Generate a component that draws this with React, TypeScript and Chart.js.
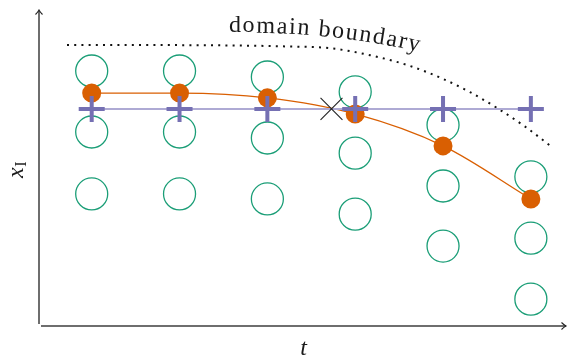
import React, { useEffect, useRef } from "react";
import { Chart, registerables } from "chart.js";

Chart.register(...registerables);

// ---- data ----
const columnT = [1, 2, 3, 4, 5, 6];
const greenTop = [80.7, 80.7, 78.8, 74.1, 63.6, 47.2];
const greenMid = [61.4, 61.4, 59.5, 54.7, 44.3, 27.8];
const greenLow = [41.8, 41.8, 40.2, 35.4, 25.3, 8.5];
const orangeVals = [73.7, 73.7, 72.2, 67.1, 57.0, 40.2];
const purpleVals = [68.7, 68.7, 68.7, 68.7, 68.7, 68.7];
const crossT = [3.73];
const crossV = [68.7];
const boundaryT = [0.719, 1.664, 2.495, 3.178, 3.713, 4.169, 4.624, 5.0, 5.307, 5.615, 5.934, 6.241];
const boundaryV = [88.9, 88.9, 88.8, 88.5, 87.9, 85.7, 82.3, 78.2, 74.0, 69.0, 63.1, 56.6];
const labelPathT = [2.563, 2.802, 3.087, 3.372, 3.6, 3.827, 4.05, 4.282, 4.51, 4.738, 4.966];
const labelPathV = [92.88, 92.88, 92.7, 92.34, 91.8, 91.14, 90.3, 89.27, 88.1, 86.71, 85.13];
const boundaryLabel = "domain boundary";
const xLabel = "t";
const yLabelMain = "x";
const yLabelSub = "I";

const GREEN = "#1b9e77";
const ORANGE = "#d95f02";
const PURPLE = "#7570b3";

const pts = (xs: number[], ys: number[]) => xs.map((x, i) => ({ x, y: ys[i] }));

const decorPlugin = {
  id: "decor",
  beforeDatasetsDraw(chart: any) {
    const { ctx, chartArea } = chart;
    const { left, right, top, bottom } = chartArea;
    ctx.save();
    ctx.strokeStyle = "#6e6e6e";
    ctx.lineWidth = 2;
    ctx.beginPath();
    ctx.moveTo(left, bottom - 2);
    ctx.lineTo(left, top + 1);
    ctx.moveTo(left + 2, bottom);
    ctx.lineTo(right, bottom);
    ctx.stroke();
    // arrow heads
    ctx.strokeStyle = "#222";
    ctx.lineWidth = 1.1;
    ctx.beginPath();
    ctx.moveTo(left - 3.5, top + 4.5);
    ctx.quadraticCurveTo(left - 1, top + 2, left, top);
    ctx.quadraticCurveTo(left + 1, top + 2, left + 3.5, top + 4.5);
    ctx.moveTo(right - 4.5, bottom - 3.5);
    ctx.quadraticCurveTo(right - 2, bottom - 1, right, bottom);
    ctx.quadraticCurveTo(right - 2, bottom + 1, right - 4.5, bottom + 3.5);
    ctx.stroke();
    ctx.restore();
  },
  afterDraw(chart: any) {
    const { ctx, chartArea, scales } = chart;
    const xs = scales.x;
    const ys = scales.y;
    ctx.save();
    ctx.fillStyle = "#1a1a1a";
    // axis label t
    ctx.font = "italic 24px 'Liberation Serif'";
    ctx.textAlign = "center";
    ctx.textBaseline = "alphabetic";
    ctx.fillText(xLabel, (chartArea.left + chartArea.right) / 2 + 1, chartArea.bottom + 29);
    // y label x_I rotated
    ctx.save();
    ctx.translate(chartArea.left - 16, (chartArea.top + chartArea.bottom) / 2 + 10);
    ctx.rotate(-Math.PI / 2);
    ctx.textAlign = "left";
    ctx.font = "italic 24px 'Liberation Serif'";
    ctx.fillText(yLabelMain, 0, 0);
    const wx = ctx.measureText(yLabelMain).width;
    ctx.font = "16px 'Liberation Serif'";
    ctx.fillText(yLabelSub, wx + 0.5, 3);
    ctx.restore();

    // text along curved path
    const path = labelPathT.map((t, i) => ({ x: xs.getPixelForValue(t), y: ys.getPixelForValue(labelPathV[i]) }));
    const cum = [0];
    for (let i = 1; i < path.length; i++) {
      cum.push(cum[i - 1] + Math.hypot(path[i].x - path[i - 1].x, path[i].y - path[i - 1].y));
    }
    const at = (s: number) => {
      let i = 1;
      while (i < path.length - 1 && cum[i] < s) i++;
      const a = path[i - 1];
      const b = path[i];
      const segLen = cum[i] - cum[i - 1];
      const f = (s - cum[i - 1]) / segLen;
      return { x: a.x + (b.x - a.x) * f, y: a.y + (b.y - a.y) * f, ang: Math.atan2(b.y - a.y, b.x - a.x) };
    };
    ctx.font = "24px 'Liberation Serif'";
    ctx.textAlign = "left";
    const spacing = 1.6;
    let s = 0;
    for (const ch of boundaryLabel) {
      const w = ctx.measureText(ch).width;
      const p = at(s + w / 2);
      ctx.save();
      ctx.translate(p.x, p.y);
      ctx.rotate(p.ang);
      ctx.fillText(ch, -w / 2, 0);
      ctx.restore();
      s += w + spacing;
    }
    ctx.restore();
  },
};

export default function App() {
  const ref = useRef<HTMLCanvasElement | null>(null);
  useEffect(() => {
    if (!ref.current) return;
    const greenPts = [
      ...pts(columnT, greenTop),
      ...pts(columnT, greenMid),
      ...pts(columnT, greenLow),
    ];
    const chart = new Chart(ref.current, {
      type: "scatter",
      data: {
        datasets: [
          {
            label: "switch",
            data: pts(crossT, crossV),
            pointStyle: "crossRot",
            pointRadius: 15.5,
            pointBorderWidth: 1.1,
            pointBorderColor: "#222",
            showLine: false,
            order: 0,
            clip: false,
          } as any,
          {
            label: "fixed",
            data: pts(columnT, purpleVals),
            showLine: true,
            borderColor: "#aeaad4",
            borderWidth: 2,
            pointStyle: "cross",
            pointRadius: 13,
            pointBorderWidth: 4,
            pointBorderColor: PURPLE,
            order: 1,
            clip: false,
          },
          {
            label: "trajectory",
            data: pts(columnT, orangeVals),
            showLine: true,
            borderColor: ORANGE,
            borderWidth: 1.3,
            cubicInterpolationMode: "monotone",
            pointStyle: "circle",
            pointRadius: 9.5,
            pointBorderWidth: 0,
            pointBackgroundColor: ORANGE,
            order: 2,
            clip: false,
          },
          {
            label: "grid",
            data: greenPts,
            showLine: false,
            pointStyle: "circle",
            pointRadius: 16,
            pointBorderWidth: 1.3,
            pointBorderColor: GREEN,
            pointBackgroundColor: "rgba(0,0,0,0)",
            order: 3,
            clip: false,
          },
          {
            label: "boundary",
            data: pts(boundaryT, boundaryV),
            showLine: true,
            borderColor: "#111",
            borderWidth: 2,
            borderDash: [2, 5.2],
            cubicInterpolationMode: "monotone",
            pointRadius: 0,
            order: 4,
            clip: false,
          },
        ],
      },
      options: {
        responsive: false,
        animation: false,
        devicePixelRatio: 1,
        layout: { autoPadding: false, padding: { left: 39, right: 4, top: 10, bottom: 30 } },
        scales: {
          x: { type: "linear", min: 0.4, max: 6.4, display: false },
          y: { type: "linear", min: 0, max: 100, display: false },
        },
        plugins: { legend: { display: false }, tooltip: { enabled: false } },
        events: [],
      },
      plugins: [decorPlugin],
    });
    return () => chart.destroy();
  }, []);
  return (
    <div style={{ position: "fixed", left: 0, top: 0, width: 570, height: 356, background: "#fff" }}>
      <canvas ref={ref} width={570} height={356} style={{ display: "block", width: 570, height: 356 }} />
    </div>
  );
}
